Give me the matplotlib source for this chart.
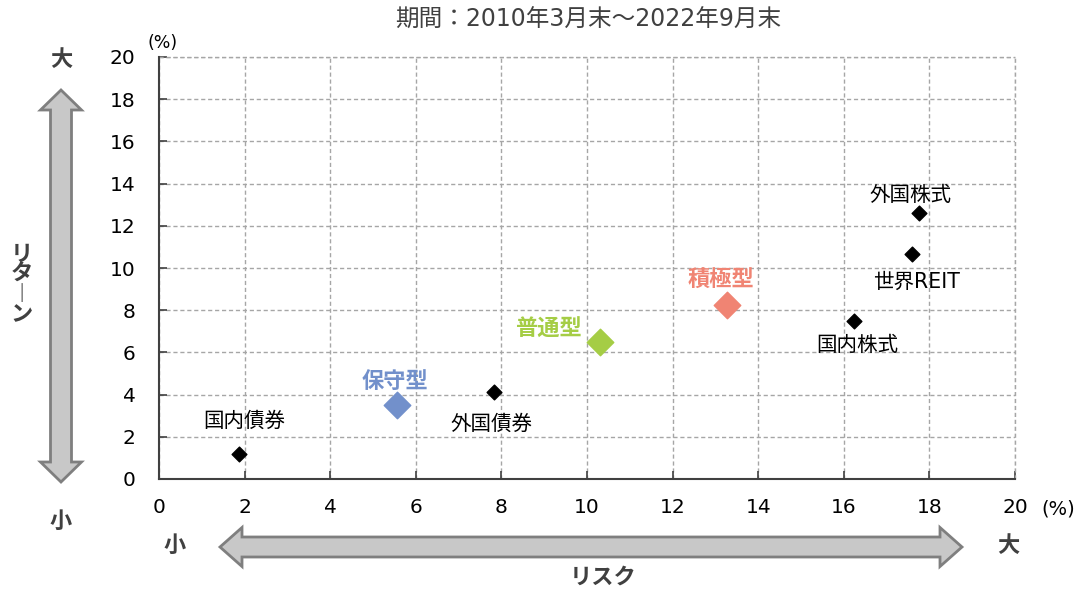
import matplotlib
matplotlib.use("Agg")
import matplotlib.pyplot as plt
from matplotlib.patches import Polygon

plt.rcParams['font.family'] = ['DejaVu Sans', 'Noto Sans CJK JP']

# data
assets = ["国内債券", "外国債券", "国内株式", "世界REIT", "外国株式"]
asset_risk = [1.87, 7.83, 16.24, 17.6, 17.76]
asset_return = [1.18, 4.12, 7.49, 10.66, 12.6]

portfolios = ["保守型", "普通型", "積極型"]
port_risk = [5.56, 10.3, 13.27]
port_return = [3.5, 6.49, 8.25]
port_colors = ["#7290cb", "#a5cd45", "#f08473"]

ticks = list(range(0, 21, 2))
title = "期間：2010年3月末～2022年9月末"

# label offsets (points)
asset_offsets = [(4, 24), (-2, -23), (2, -17), (3, -20), (-6, 13)]
port_offsets = [(-1.5, 17), (-37, 9), (-4, 18)]

W, H = 1079, 593
fig = plt.figure(figsize=(W / 100, H / 100), dpi=100)
ax = fig.add_axes([159 / W, 1 - 479 / H, (1015 - 159) / W, (479 - 57) / H])

ax.scatter(asset_risk, asset_return, marker="D", s=7.5 ** 2, color="black", zorder=3)
for name, x, y, off in zip(assets, asset_risk, asset_return, asset_offsets):
    ax.annotate(name, (x, y), xytext=off, textcoords="offset points",
                ha="center", va="center", fontsize=14.8, color="black")

for name, x, y, c, off in zip(portfolios, port_risk, port_return, port_colors, port_offsets):
    ax.scatter([x], [y], marker="D", s=13.5 ** 2, color=c, zorder=3)
    ax.annotate(name, (x, y), xytext=off, textcoords="offset points",
                ha="center", va="center", fontsize=16, color=c, fontweight="bold")

ax.set_xlim(0, 20)
ax.set_ylim(0, 20)
ax.set_xticks(ticks)
ax.set_yticks(ticks)
ax.grid(True, color="#a6a6a6", linestyle=(0, (3, 2)), linewidth=1)
ax.set_axisbelow(True)
for s in ["top", "right"]:
    ax.spines[s].set_visible(False)
for s in ["left", "bottom"]:
    ax.spines[s].set_color("#404040")
    ax.spines[s].set_linewidth(1.5)
ax.tick_params(axis="both", direction="in", length=6, width=1.2, color="#404040",
               labelsize=14.5, labelcolor="black")
ax.tick_params(axis="y", pad=17)
ax.tick_params(axis="x", pad=14)
ax.plot([0, 20], [20, 20], color="#a6a6a6", linestyle=(0, (3, 2)), lw=1, clip_on=False)
ax.plot([20, 20], [0, 20], color="#a6a6a6", linestyle=(0, (3, 2)), lw=1, clip_on=False)


def fx(px):
    return px / W


def fy(py):
    return 1 - py / H


def double_arrow(a0, a1, c, shaft, head_w, head_len, vertical):
    hs, hw = shaft / 2, head_w / 2
    pts = [(a0, 0), (a0 + head_len, hw), (a0 + head_len, hs), (a1 - head_len, hs),
           (a1 - head_len, hw), (a1, 0), (a1 - head_len, -hw), (a1 - head_len, -hs),
           (a0 + head_len, -hs), (a0 + head_len, -hw)]
    if vertical:
        pts = [(fx(c + v), fy(u)) for u, v in pts]
    else:
        pts = [(fx(u), fy(c + v)) for u, v in pts]
    fig.patches.append(Polygon(pts, closed=True, transform=fig.transFigure,
                               facecolor="#c8c8c8", edgecolor="#7f7f7f", linewidth=2))


double_arrow(90, 482, 61, 21, 41, 20, True)
double_arrow(220, 962, 547, 20, 39, 22, False)

dark = "#404040"
fig.text(fx(61), fy(60), "大", ha="center", va="center", fontsize=16, fontweight="bold", color=dark)
fig.text(fx(61), fy(522), "小", ha="center", va="center", fontsize=16, fontweight="bold", color=dark)
fig.text(fx(175), fy(546), "小", ha="center", va="center", fontsize=16, fontweight="bold", color=dark)
fig.text(fx(1008), fy(546), "大", ha="center", va="center", fontsize=16, fontweight="bold", color=dark)
fig.text(fx(603), fy(578), "リスク", ha="center", va="center", fontsize=16, fontweight="bold", color=dark)
fig.text(fx(22), fy(285), "リ\nタ\n︱\nン", ha="center", va="center", fontsize=16,
         fontweight="bold", color=dark, linespacing=1.0)
fig.text(fx(588), fy(20), title, ha="center", va="center", fontsize=17, color=dark)
fig.text(fx(163), fy(43), "(%)", ha="center", va="center", fontsize=12.5, color="black")
fig.text(fx(1058), fy(509), "(%)", ha="center", va="center", fontsize=14, color="black")

fig.savefig("out.png", dpi=100)
